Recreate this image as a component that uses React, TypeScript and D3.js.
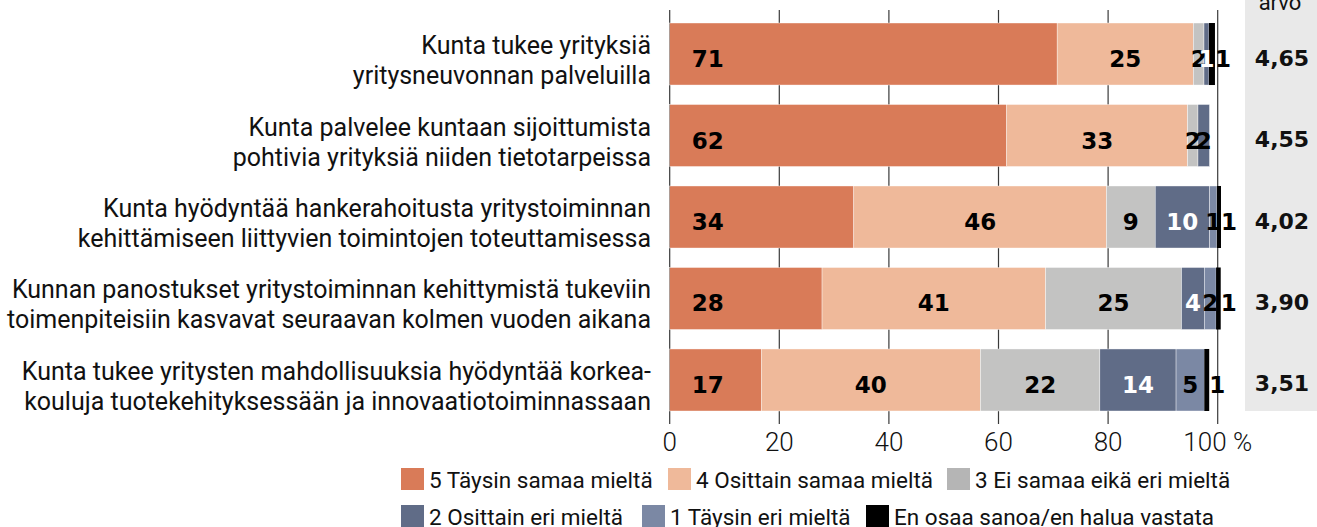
import React from "react";
import * as d3 from "d3";

// väittämät (rivit), kukin kahdella rivillä
const statements = [
  ["Kunta tukee yrityksiä", "yritysneuvonnan palveluilla"],
  ["Kunta palvelee kuntaan sijoittumista", "pohtivia yrityksiä niiden tietotarpeissa"],
  ["Kunta hyödyntää hankerahoitusta yritystoiminnan", "kehittämiseen liittyvien toimintojen toteuttamisessa"],
  ["Kunnan panostukset yritystoiminnan kehittymistä tukeviin", "toimenpiteisiin kasvavat seuraavan kolmen vuoden aikana"],
  ["Kunta tukee yritysten mahdollisuuksia hyödyntää korkea-", "kouluja tuotekehityksessään ja innovaatiotoiminnassaan"],
];

const averages = [4.65, 4.55, 4.02, 3.9, 3.51];

// vastausjakaumat, %
const taysinSamaa = [70.7, 61.5, 33.6, 27.8, 16.7];
const osittainSamaa = [24.85, 33.0, 46.1, 40.8, 40.0];
const eiSamaaEikaEri = [1.95, 1.9, 8.9, 24.8, 21.8];
const osittainEri = [0.9, 2.1, 9.9, 4.15, 13.9];
const taysinEri = [0, 0, 1.35, 2.15, 5.15];
const enOsaa = [1.1, 0, 0.75, 0.85, 0.9];

const seriesKeys = ["s5", "s4", "s3", "s2", "s1", "eos"];
const seriesNames = [
  "5 Täysin samaa mieltä",
  "4 Osittain samaa mieltä",
  "3 Ei samaa eikä eri mieltä",
  "2 Osittain eri mieltä",
  "1 Täysin eri mieltä",
  "En osaa sanoa/en halua vastata",
];
const seriesColors = ["#d97b58", "#efb99a", "#c3c3c2", "#606c87", "#7b88a4", "#000000"];
const legendColors = ["#d97b58", "#efb99a", "#b5b5b5", "#606c87", "#7b88a4", "#000000"];

const ticks = [0, 20, 40, 60, 80, 100];

const W = 1317;
const H = 527;
const sans = "Roboto, 'Liberation Sans', sans-serif";
const numFont = "'DejaVu Sans', Roboto, sans-serif";

const App = () => {
  const rows = statements.map((s, i) => ({
    idx: i,
    s5: taysinSamaa[i],
    s4: osittainSamaa[i],
    s3: eiSamaaEikaEri[i],
    s2: osittainEri[i],
    s1: taysinEri[i],
    eos: enOsaa[i],
  }));

  const stack = d3.stack<any>().keys(seriesKeys);
  const layers = stack(rows);

  const x = d3.scaleLinear().domain([0, 100]).range([669.7, 1217.7]);
  const y = d3
    .scaleBand<number>()
    .domain(rows.map((r) => r.idx))
    .range([23, 411])
    .paddingInner(0.239)
    .paddingOuter(0);
  const bh = y.bandwidth();
  const fmt = d3.format(".2f");

  // label colour: white on the dark "2" segment, black when it spills out
  const labelColor = (li: number, v: number) => {
    if (li !== 3) return "#000";
    return v >= 3 || v < 1 ? "#fff" : "#000";
  };

  // legend layout: two rows
  const legendRows = [
    [0, 1, 2],
    [3, 4, 5],
  ];
  const legendX = [
    [401, 668, 947],
    [401, 642, 866],
  ];
  const legendY = [468, 505];

  return (
    <svg
      width={W}
      height={H}
      style={{ position: "absolute", left: 0, top: 0, background: "#fff" }}
    >
      {/* keskiarvopaneeli */}
      <rect x={1245} y={0} width={W - 1245} height={411} fill="#e9e9e9" />
      <text
        x={1280}
        y={10}
        textAnchor="middle"
        fontFamily={sans}
        fontSize={22}
        fill="#111"
      >
        arvo
      </text>

      {/* gridlines */}
      {ticks.map((t) => (
        <line
          key={t}
          x1={x(t)}
          x2={x(t)}
          y1={10}
          y2={424}
          stroke="#3a3a3a"
          strokeWidth={1.2}
        />
      ))}

      {/* bars */}
      {layers.map((layer, li) => (
        <g key={layer.key}>
          {layer.map((d: any, i) => {
            const w = x(d[1]) - x(d[0]);
            if (w <= 0) return null;
            return (
              <rect
                key={i}
                x={x(d[0])}
                y={y(i)}
                width={w}
                height={bh}
                fill={seriesColors[li]}
                stroke={li === 5 ? "none" : "#fff"}
                strokeWidth={0.4}
              />
            );
          })}
        </g>
      ))}

      {/* segment labels */}
      {layers.map((layer, li) => (
        <g key={"l" + layer.key}>
          {layer.map((d: any, i) => {
            const v = d[1] - d[0];
            if (v <= 0) return null;
            let tx = (x(d[0]) + x(d[1])) / 2;
            let anchor = "middle";
            if (li === 0) {
              tx = x(d[0]) + 22;
              anchor = "start";
            } else if (li === 5) {
              tx = x(d[1]);
              anchor = "start";
            }
            return (
              <text
                key={i}
                x={tx}
                y={(y(i) as number) + bh / 2 + 5}
                textAnchor={anchor}
                dominantBaseline="central"
                fontFamily={numFont}
                fontWeight="bold"
                fontSize={23}
                fill={labelColor(li, v)}
              >
                {Math.round(v)}
              </text>
            );
          })}
        </g>
      ))}

      {/* category labels */}
      {statements.map((lines, i) => (
        <text
          key={i}
          textAnchor="end"
          fontFamily={sans}
          fontSize={25}
          fill="#111"
        >
          {lines.map((ln, k) => (
            <tspan key={k} x={651} y={(y(i) as number) + bh / 2 + k * 30}>
              {ln}
            </tspan>
          ))}
        </text>
      ))}

      {/* averages */}
      {averages.map((a, i) => (
        <text
          key={i}
          x={1282}
          y={(y(i) as number) + bh / 2 + 4}
          textAnchor="middle"
          dominantBaseline="central"
          fontFamily={numFont}
          fontWeight="bold"
          fontSize={22}
          fill="#111"
        >
          {fmt(a).replace(".", ",")}
        </text>
      ))}

      {/* x axis labels */}
      {ticks.map((t) => (
        <text
          key={t}
          x={x(t)}
          y={451}
          textAnchor="middle"
          fontFamily={sans}
          fontWeight={300}
          fontSize={26}
          fill="#111"
        >
          {t === 100 ? "100 %" : t}
        </text>
      ))}

      {/* legend */}
      {legendRows.map((row, r) =>
        row.map((si, c) => (
          <g key={si} transform={`translate(${legendX[r][c]},${legendY[r]})`}>
            <rect width={23} height={22} fill={legendColors[si]} />
            <text
              x={28}
              y={12}
              dominantBaseline="central"
              fontFamily={sans}
              fontSize={22.5}
              fill="#111"
            >
              {seriesNames[si]}
            </text>
          </g>
        ))
      )}
    </svg>
  );
};

export default App;
